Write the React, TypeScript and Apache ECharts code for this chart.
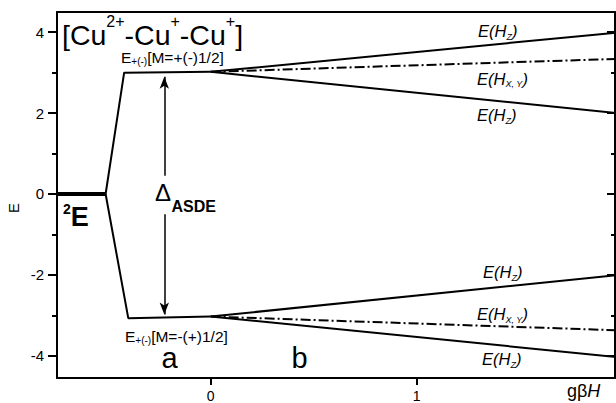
import React, { useEffect, useRef } from "react";
import * as echarts from "echarts";

// axis ranges and ticks
const X_RANGE = [-0.746, 1.963];
const Y_RANGE = [-4.55, 4.5];
const xTickValues = [0, 1];
const yMajorTicks = [-4, -2, 0, 2, 4];
const yMinorTicks = [-3, -1, 1, 3];

// energy levels (x = gβH, y = E)
const groundLevel = [[-0.75, 0], [-0.51, 0]];
const upperSplit = [[-0.51, 0], [-0.42, 3.0], [0, 3.02]];
const lowerSplit = [[-0.51, 0], [-0.4, -3.07], [0, -3.03]];
const upperHzHigh = [[0, 3.02], [1.97, 3.99]];
const upperHxy = [[0, 3.02], [1.97, 3.34]];
const upperHzLow = [[0, 3.02], [1.97, 2.0]];
const lowerHzHigh = [[0, -3.03], [1.97, -2.01]];
const lowerHxy = [[0, -3.03], [1.97, -3.37]];
const lowerHzLow = [[0, -3.03], [1.97, -4.03]];

// Δ_ASDE double arrow
const arrowX = -0.225;
const arrowUp = [0.45, 2.9];
const arrowDown = [-0.5, -2.98];

const FONT = '"Liberation Sans", Arial, Helvetica, sans-serif';

function richText(x: number, y: number, text: string, rich: any, extra: any = {}) {
  return {
    type: "text",
    x,
    y,
    silent: true,
    ...extra,
    style: {
      text,
      rich,
      fill: "#000",
      fontFamily: FONT,
      align: "left",
      verticalAlign: "middle",
      textAlign: "left",
      textVerticalAlign: "middle",
      ...(extra.style || {}),
    },
  };
}

const hzRich = {
  m: { fontSize: 16.5, fontStyle: "italic", lineHeight: 20, fontFamily: FONT, fill: "#000" },
  s: { fontSize: 9, fontStyle: "italic", lineHeight: 8, verticalAlign: "bottom", fontFamily: FONT, fill: "#000" },
};

export default function App() {
  const ref = useRef<HTMLDivElement>(null);
  useEffect(() => {
    if (!ref.current) return;
    const chart = echarts.init(ref.current, undefined, { renderer: "svg" });
    const black = "#000";
    const solid = (data: number[][], width = 2) => ({
      type: "line",
      data,
      symbol: "none",
      showSymbol: false,
      silent: true,
      clip: true,
      lineStyle: { color: black, width, type: "solid" },
    });
    const dashed = (data: number[][]) => ({
      type: "line",
      data,
      symbol: "none",
      showSymbol: false,
      silent: true,
      clip: true,
      lineStyle: { color: black, width: 2, type: [10, 3, 2, 3] },
    });
    const yBase = {
      type: "value",
      min: Y_RANGE[0],
      max: Y_RANGE[1],
      splitLine: { show: false },
    };
    const option: any = {
      animation: false,
      backgroundColor: "#fff",
      grid: { left: 57, right: 1, top: 12, bottom: 24, containLabel: false },
      xAxis: [
        {
          type: "value",
          position: "bottom",
          min: X_RANGE[0],
          max: X_RANGE[1],
          axisLine: { show: true, onZero: false, lineStyle: { color: black, width: 2 } },
          axisTick: { show: true, customValues: xTickValues, length: 7, lineStyle: { color: black, width: 2 } },
          axisLabel: { customValues: xTickValues, color: black, fontSize: 14, fontFamily: FONT, margin: 11 },
          splitLine: { show: false },
        },
        {
          type: "value",
          position: "top",
          min: X_RANGE[0],
          max: X_RANGE[1],
          axisLine: { show: true, onZero: false, lineStyle: { color: black, width: 2 } },
          axisTick: { show: false },
          axisLabel: { show: false },
          splitLine: { show: false },
        },
      ],
      yAxis: [
        {
          ...yBase,
          position: "left",
          axisLine: { show: true, onZero: false, lineStyle: { color: black, width: 2 } },
          axisTick: { show: true, customValues: yMajorTicks, length: 9, lineStyle: { color: black, width: 2 } },
          axisLabel: { customValues: yMajorTicks, color: black, fontSize: 15, fontFamily: FONT, margin: 13 },
        },
        {
          ...yBase,
          position: "left",
          axisLine: { show: false, onZero: false },
          axisTick: { show: true, customValues: yMinorTicks, length: 5, lineStyle: { color: black, width: 2 } },
          axisLabel: { show: false },
        },
        {
          ...yBase,
          position: "right",
          axisLine: { show: true, onZero: false, lineStyle: { color: black, width: 2 } },
          axisTick: { show: true, inside: true, customValues: yMajorTicks, length: 8, lineStyle: { color: black, width: 2 } },
          axisLabel: { show: false },
        },
        {
          ...yBase,
          position: "right",
          axisLine: { show: false, onZero: false },
          axisTick: { show: true, inside: true, customValues: yMinorTicks, length: 4, lineStyle: { color: black, width: 2 } },
          axisLabel: { show: false },
        },
      ],
      series: [
        solid(groundLevel, 4),
        solid(upperSplit),
        solid(lowerSplit),
        solid(upperHzHigh),
        dashed(upperHxy),
        solid(upperHzLow),
        solid(lowerHzHigh),
        dashed(lowerHxy),
        solid(lowerHzLow),
        {
          type: "line",
          data: [],
          symbol: "none",
          silent: true,
          markLine: {
            silent: true,
            animation: false,
            symbol: ["none", "arrow"],
            symbolSize: [7, 12],
            label: { show: false },
            lineStyle: { color: black, width: 1.5, type: "solid" },
            data: [
              [{ coord: [arrowX, arrowUp[0]] }, { coord: [arrowX, arrowUp[1]] }],
              [{ coord: [arrowX, arrowDown[0]] }, { coord: [arrowX, arrowDown[1]] }],
            ],
          },
        },
      ],
      graphic: [
        richText(62, 35, "{m|[Cu}{s|2+}{m|-Cu}{s|+}{m|-Cu}{s|+}{m|]}", {
          m: { fontSize: 28.5, lineHeight: 44, fontFamily: FONT, fill: "#000" },
          s: { fontSize: 16, lineHeight: 16, verticalAlign: "top", fontFamily: FONT, fill: "#000" },
        }),
        richText(121, 57, "{m|E}{s|+(-)}{m|[M=+(-)1/2]}", {
          m: { fontSize: 15.5, lineHeight: 19, fontFamily: FONT, fill: "#000" },
          s: { fontSize: 10, lineHeight: 8, verticalAlign: "bottom", fontFamily: FONT, fill: "#000" },
        }),
        richText(125, 336, "{m|E}{s|+(-)}{m|[M=-(+)1/2]}", {
          m: { fontSize: 15.5, lineHeight: 19, fontFamily: FONT, fill: "#000" },
          s: { fontSize: 10, lineHeight: 8, verticalAlign: "bottom", fontFamily: FONT, fill: "#000" },
        }),
        richText(155, 192, "{d|Δ}", { d: { fontSize: 24, fontFamily: FONT, fill: "#000" } }),
        richText(171.5, 206.5, "{a|ASDE}", { a: { fontSize: 16, fontWeight: "bold", fontFamily: FONT, fill: "#000" } }),
        richText(63, 216.5, "{s|2}{m|E}", {
          m: { fontSize: 27, fontWeight: "bold", lineHeight: 30, fontFamily: FONT, fill: "#000" },
          s: { fontSize: 14, fontWeight: "bold", lineHeight: 12, verticalAlign: "top", fontFamily: FONT, fill: "#000" },
        }),
        richText(161.5, 358, "{m|a}", { m: { fontSize: 29, fontFamily: FONT, fill: "#000" } }),
        richText(291.5, 358, "{m|b}", { m: { fontSize: 29, fontFamily: FONT, fill: "#000" } }),
        richText(478, 31, "{m|E(H}{s|Z}{m|)}", hzRich),
        richText(477, 78.5, "{m|E(H}{s|X, Y}{m|)}", hzRich),
        richText(477, 115, "{m|E(H}{s|Z}{m|)}", hzRich),
        richText(483, 272, "{m|E(H}{s|Z}{m|)}", hzRich),
        richText(477, 314, "{m|E(H}{s|X, Y}{m|)}", hzRich),
        richText(482, 359, "{m|E(H}{s|Z}{m|)}", hzRich),
        richText(567, 391, "{n|gβ}{i|H}", {
          n: { fontSize: 18, lineHeight: 20, fontFamily: FONT, fill: "#000" },
          i: { fontSize: 18, lineHeight: 20, fontStyle: "italic", fontFamily: FONT, fill: "#000" },
        }),
        {
          type: "text",
          x: 13,
          y: 208,
          rotation: Math.PI / 2,
          silent: true,
          style: {
            text: "E",
            fill: "#000",
            fontSize: 15,
            fontFamily: FONT,
            align: "center",
            verticalAlign: "middle",
            textAlign: "center",
            textVerticalAlign: "middle",
          },
        },
      ],
    };
    chart.setOption(option);
    return () => chart.dispose();
  }, []);
  return <div ref={ref} style={{ width: 616, height: 403, position: "absolute", left: 0, top: 0, background: "#fff" }} />;
}
